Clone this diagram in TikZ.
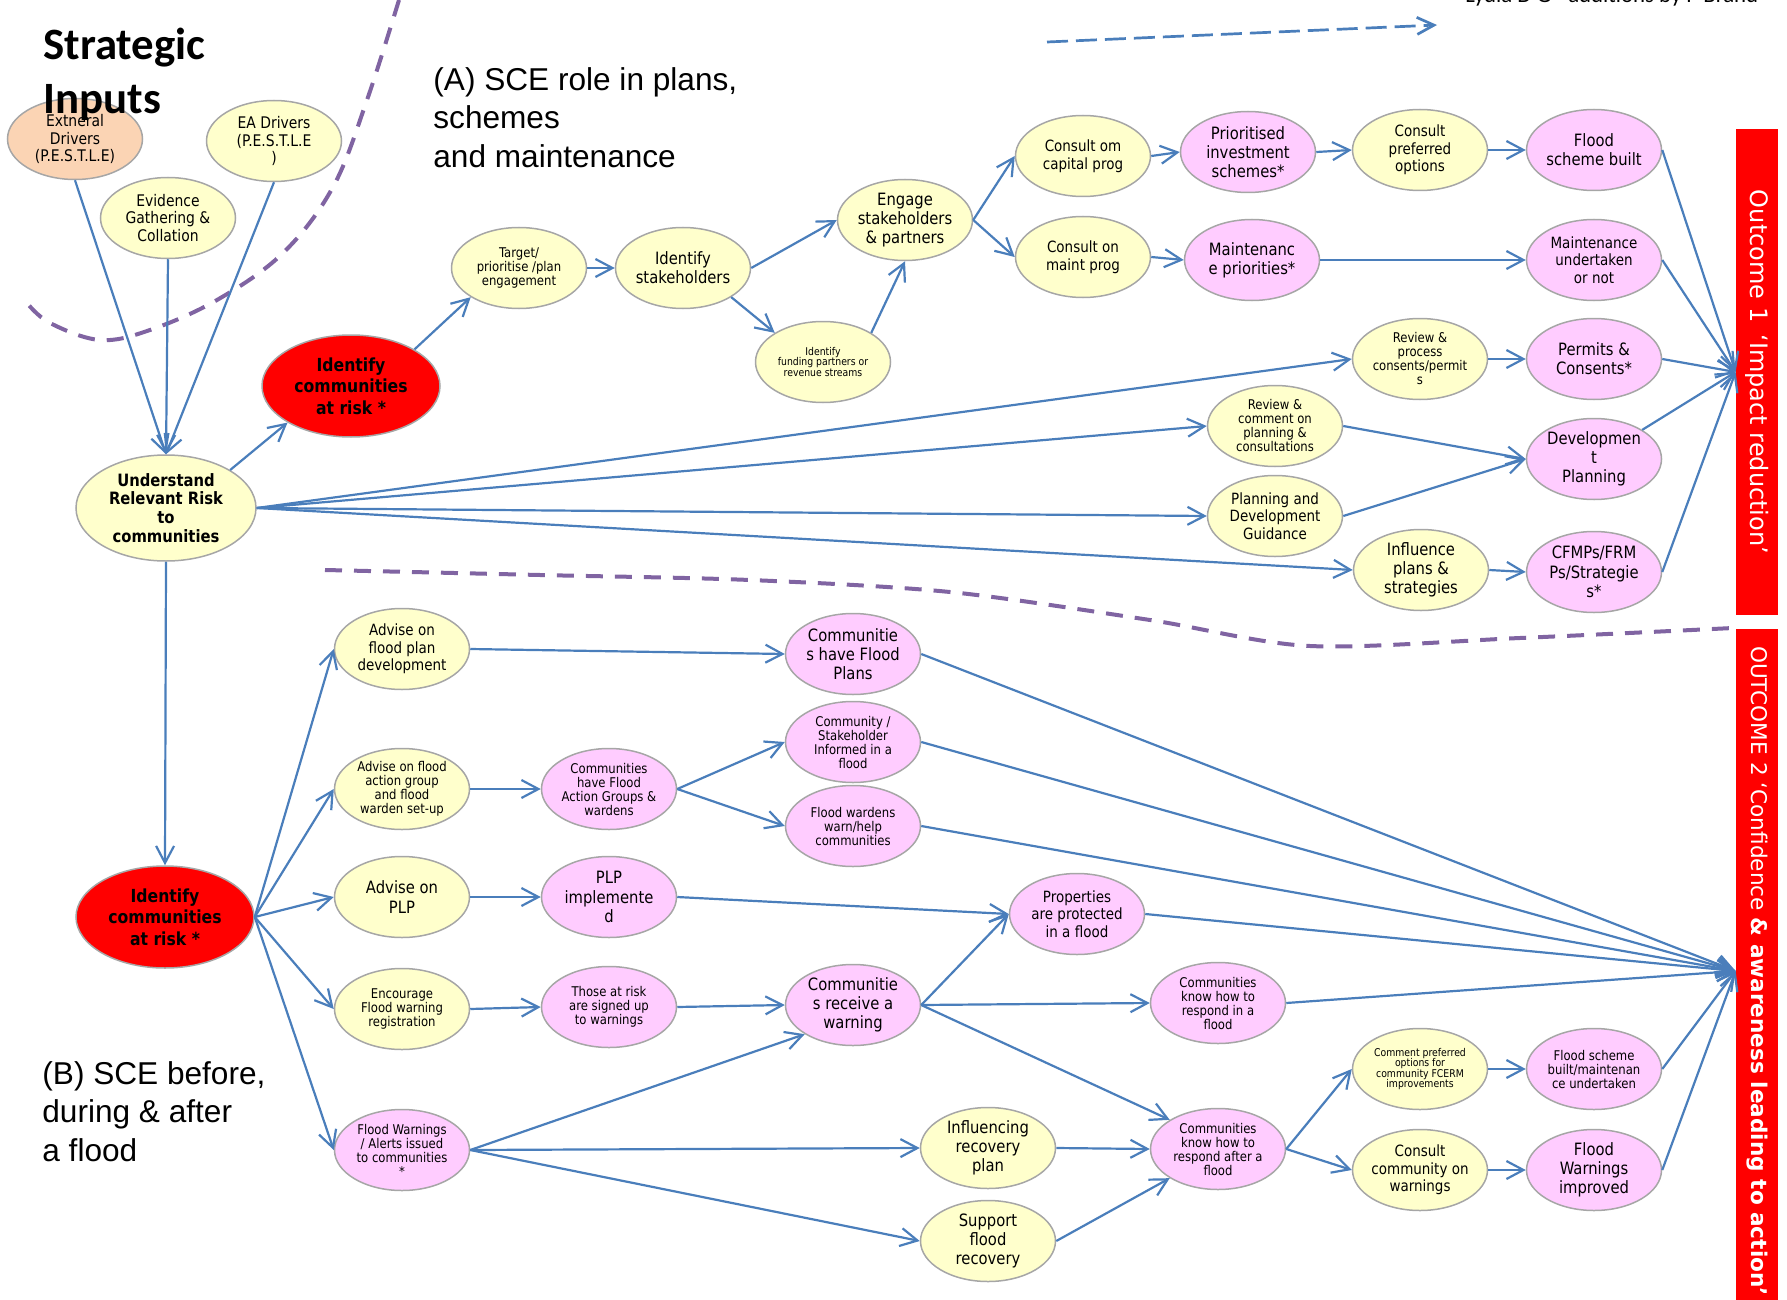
\documentclass[tikz,border=0pt]{standalone}
\usepackage{fontspec}
\usepackage{graphicx}
\usepackage{xcolor}
\newfontfamily\bubblefont[FakeStretch=0.87]{DejaVu Sans}
\newfontfamily\outcomefont{DejaVu Sans}
\newfontfamily\headingfont{Liberation Sans}
\newfontfamily\titlefont{Carlito}
\definecolor{bubbleyellow}{RGB}{255,255,204}
\definecolor{bubblepink}{RGB}{255,204,255}
\definecolor{bubblepeach}{RGB}{251,212,180}
\definecolor{riskred}{RGB}{255,0,0}
\definecolor{rimgrey}{RGB}{166,166,166}
\definecolor{flowblue}{RGB}{74,126,187}
\definecolor{splitpurple}{RGB}{128,100,162}
\usepackage{tikz}
\usetikzlibrary{arrows.meta,shapes,calc}
\tikzstyle{bubble}=[ellipse,draw=rimgrey,line width=0.75pt,minimum width=67.5pt,minimum height=40.5pt,inner sep=-12pt,align=center]
\tikzstyle{input bubble}=[bubble,fill=bubblepeach]
\tikzstyle{action bubble}=[bubble,fill=bubbleyellow]
\tikzstyle{result bubble}=[bubble,fill=bubblepink]
\tikzstyle{risk bubble}=[bubble,fill=riskred,minimum width=89pt,minimum height=51pt]
\tikzstyle{big txt}=[font=\bubblefont\fontsize{8.5}{9.6}\selectfont]
\tikzstyle{mid txt}=[font=\bubblefont\fontsize{7.75}{8.8}\selectfont]
\tikzstyle{small txt}=[font=\bubblefont\fontsize{6.7}{7}\selectfont]
\tikzstyle{tiny txt}=[font=\bubblefont\fontsize{5.35}{5.3}\selectfont]
\tikzstyle{input txt}=[font=\bubblefont\fontsize{8}{8.8}\selectfont]
\tikzstyle{bold txt}=[font=\bubblefont\bfseries\fontsize{8.5}{9.4}\selectfont]
\tikzstyle{risk txt}=[font=\bubblefont\bfseries\fontsize{9}{10.7}\selectfont]
\tikzstyle{outcome bar}=[rectangle,fill=riskred,minimum width=21pt,inner sep=0pt,text=white]
\tikzstyle{flowedge}=[-{Straight Barb[length=8.5pt,width=9pt]},line width=1.1pt,flowblue]
\tikzstyle{legendedge}=[-{Straight Barb[length=8.5pt,width=8.5pt]},line width=1.35pt,flowblue,dash pattern=on 10.5pt off 4pt]
\tikzstyle{divider}=[splitpurple,line width=2pt,dash pattern=on 8.5pt off 6pt]

\begin{document}
\begin{tikzpicture}[x=0.5pt,y=-0.5pt]
\useasboundingbox (0,0) rectangle (1787,1300);
\def\colA{402}
\def\colB{609}
\def\colC{853}
\def\colF{1420}
\def\colG{1594}

    % purple split lines
    \draw[divider] plot[smooth,tension=0.6] coordinates {(399,0) (367,100) (333,187) (283,253) (217,300) (150,330) (100,340) (50,323) (27,303)};
    \draw[divider] plot[smooth,tension=0.5] coordinates {(325,570) (540,575) (750,580) (950,592) (1150,620) (1310,646) (1520,638) (1733,628)};

    \coordinate (legend-start) at (1047,42);
    \coordinate (legend-end) at (1437,25);
    \draw[legendedge] (legend-start) -- (legend-end);
    \node[anchor=base west,inner sep=0pt,font=\titlefont\fontsize{11.4}{13}\selectfont] (credit) at (1465,3) {Lydia D G - additions by P Brand};

    % strategic inputs
    \node[input bubble, input txt] (ext) at (75,139) {Extneral\\Drivers\\(P.E.S.T.L.E)};
    \node[action bubble, input txt] (evid) at (168,218) {Evidence\\Gathering \&\\Collation};
    \node[action bubble, input txt] (ead) at (274,141) {EA Drivers\\(P.E.S.T.L.E\\)};
    \node[anchor=north west,align=left,inner sep=0pt,font=\titlefont\bfseries\fontsize{22.4}{27}\selectfont] (title) at (43,28) {Strategic\\Inputs};

    \node[action bubble, bold txt, minimum width=90pt, minimum height=53pt] (under) at (166,508) {Understand\\Relevant Risk\\to\\communities};
    \node[risk bubble, risk txt] (idA) at (351,386) {Identify\\communities\\at risk *};
    \node[risk bubble, risk txt] (idB) at (165,917) {Identify\\communities\\at risk *};

    \node[anchor=north west,align=left,inner sep=0pt,font=\headingfont\fontsize{15.8}{19.25}\selectfont] (partA) at (433,67) {(A) SCE role in plans,\\schemes\\and maintenance};
    \node[anchor=north west,align=left,inner sep=0pt,font=\headingfont\fontsize{15.8}{19.25}\selectfont] (partB) at (42,1061) {(B) SCE before,\\during \& after\\a flood};

    % (A) plans, schemes and maintenance
    \node[action bubble, small txt] (target) at (519,268) {Target/\\prioritise /plan\\engagement};
    \node[action bubble, big txt] (idstake) at (683,268) {Identify\\stakeholders};
    \node[action bubble, big txt] (engage) at (905,220) {Engage\\stakeholders\\\& partners};
    \node[action bubble, tiny txt] (funding) at (823,362) {Identify\\funding partners or\\revenue streams};
    \node[action bubble, mid txt] (capital) at (1083,156) {Consult om\\capital prog};
    \node[action bubble, mid txt] (maintprog) at (1083,257) {Consult on\\maint prog};
    \node[result bubble, big txt] (prioinv) at (1248,152) {Prioritised\\investment\\schemes*};
    \node[result bubble, big txt] (maintprio) at (1252,260) {Maintenanc\\e priorities*};
    \node[action bubble, mid txt] (prefopt) at (\colF,150) {Consult\\preferred\\options};
    \node[result bubble, big txt] (floodbuilt) at (\colG,150) {Flood\\scheme built};
    \node[result bubble, mid txt] (maintdone) at (\colG,260) {Maintenance\\undertaken\\or not};
    \node[action bubble, small txt] (reviewproc) at (\colF,359) {Review \&\\process\\consents/permit\\s};
    \node[result bubble, big txt] (permits) at (\colG,359) {Permits \&\\Consents*};
    \node[action bubble, small txt] (reviewcom) at (1275,426) {Review \&\\comment on\\planning \&\\consultations};
    \node[action bubble, mid txt] (planguide) at (1275,516) {Planning and\\Development\\Guidance};
    \node[result bubble, big txt] (develop) at (\colG,459) {Developmen\\t\\Planning};
    \node[action bubble, big txt] (influence) at (1421,570) {Influence\\plans \&\\strategies};
    \node[result bubble, big txt] (cfmp) at (\colG,572) {CFMPs/FRM\\Ps/Strategie\\s*};

    % (B) before, during and after a flood
    \node[action bubble, mid txt] (advplan) at (\colA,649) {Advise on\\flood plan\\development};
    \node[action bubble, small txt] (advfag) at (\colA,789) {Advise on flood\\action group\\and flood\\warden set-up};
    \node[action bubble, big txt] (advplp) at (\colA,897) {Advise on\\PLP};
    \node[action bubble, small txt] (encourage) at (\colA,1009) {Encourage\\Flood warning\\registration};
    \node[result bubble, small txt] (alerts) at (\colA,1150) {Flood Warnings\\/ Alerts issued\\to communities\\*};
    \node[result bubble, small txt] (commfag) at (\colB,789) {Communities\\have Flood\\Action Groups \&\\wardens};
    \node[result bubble, big txt] (plpimpl) at (\colB,897) {PLP\\implemente\\d};
    \node[result bubble, small txt] (signed) at (\colB,1007) {Those at risk\\are signed up\\to warnings};
    \node[result bubble, big txt] (commplans) at (\colC,654) {Communitie\\s have Flood\\Plans};
    \node[result bubble, small txt] (informed) at (\colC,742) {Community /\\Stakeholder\\Informed in a\\flood};
    \node[result bubble, small txt] (wardens) at (\colC,826) {Flood wardens\\warn/help\\communities};
    \node[result bubble, big txt] (receive) at (\colC,1005) {Communitie\\s receive a\\warning};
    \node[result bubble, mid txt] (props) at (1077,914) {Properties\\are protected\\in a flood};
    \node[result bubble, small txt] (respin) at (1218,1003) {Communities\\know how to\\respond in a\\flood};
    \node[result bubble, small txt] (respafter) at (1218,1149) {Communities\\know how to\\respond after a\\flood};
    \node[action bubble, big txt] (influencing) at (988,1148) {Influencing\\recovery\\plan};
    \node[action bubble, big txt] (support) at (988,1241) {Support\\flood\\recovery};
    \node[action bubble, tiny txt] (commentpref) at (\colF,1069) {Comment preferred\\options for\\community FCERM\\improvements};
    \node[result bubble, small txt] (fsbm) at (\colG,1069) {Flood scheme\\built/maintenan\\ce undertaken};
    \node[action bubble, mid txt] (consultcomm) at (\colF,1170) {Consult\\community on\\warnings};
    \node[result bubble, big txt] (fwimproved) at (\colG,1170) {Flood\\Warnings\\improved};

    % outcome bars
    \node[outcome bar, minimum height=243pt, font=\outcomefont\fontsize{12}{14}\selectfont] (out1) at (1757,372) {\rotatebox{-90}{Outcome 1\enspace‘Impact reduction’}};
    \node[outcome bar, minimum height=342pt, font=\outcomefont\fontsize{10.8}{13}\selectfont] (out2) at (1757,971) {\rotatebox{-90}{OUTCOME 2 ‘Confidence {\bfseries\& awareness leading to action’}}};

    \foreach \source in {ext,evid,ead}
        \draw[flowedge] (\source.south) -- (under.north);
    \draw[flowedge] (under.north east) -- (idA.south west);
    \draw[flowedge] (idA.north east) -- (target.south west);
    \draw[flowedge] (target.east) -- (idstake.west);
    \draw[flowedge] (idstake.east) -- (engage.west);
    \draw[flowedge] (idstake.south east) -- (funding.north west);
    \draw[flowedge] (funding.north east) -- (engage.south);
    \draw[flowedge] (engage.east) -- (capital.west);
    \draw[flowedge] (engage.east) -- (maintprog.west);
    \draw[flowedge] (capital.east) -- (prioinv.west);
    \draw[flowedge] (maintprog.east) -- (maintprio.west);
    \draw[flowedge] (prioinv.east) -- (prefopt.west);
    \draw[flowedge] (prefopt.east) -- (floodbuilt.west);
    \draw[flowedge] (maintprio.east) -- (maintdone.west);

    \foreach \dest in {reviewproc,reviewcom,planguide,influence}
        \draw[flowedge] (under.east) -- (\dest.west);
    \draw[flowedge] (reviewproc.east) -- (permits.west);
    \draw[flowedge] (reviewcom.east) -- (develop.west);
    \draw[flowedge] (planguide.east) -- (develop.west);
    \draw[flowedge] (influence.east) -- (cfmp.west);

    \foreach \source in {floodbuilt,maintdone,permits,cfmp}
        \draw[flowedge] (\source.east) -- (out1.west);
    \draw[flowedge] (develop.north east) -- (out1.west);

    \draw[flowedge] (under.south) -- (idB.north);
    \foreach \dest in {advplan,advfag,advplp,encourage,alerts}
        \draw[flowedge] (idB.east) -- (\dest.west);

    \draw[flowedge] (advplan.east) -- (commplans.west);
    \draw[flowedge] (advfag.east) -- (commfag.west);
    \draw[flowedge] (commfag.east) -- (informed.west);
    \draw[flowedge] (commfag.east) -- (wardens.west);
    \draw[flowedge] (advplp.east) -- (plpimpl.west);
    \draw[flowedge] (plpimpl.east) -- (props.west);
    \draw[flowedge] (encourage.east) -- (signed.west);
    \draw[flowedge] (signed.east) -- (receive.west);
    \draw[flowedge] (alerts.east) -- (receive.south west);
    \draw[flowedge] (alerts.east) -- (influencing.west);
    \draw[flowedge] (alerts.east) -- (support.west);
    \draw[flowedge] (receive.east) -- (props.west);
    \draw[flowedge] (receive.east) -- (respin.west);
    \draw[flowedge] (receive.east) -- (respafter.north west);
    \draw[flowedge] (influencing.east) -- (respafter.west);
    \draw[flowedge] (support.east) -- (respafter.south west);
    \draw[flowedge] (respafter.east) -- (commentpref.west);
    \draw[flowedge] (respafter.east) -- (consultcomm.west);
    \draw[flowedge] (commentpref.east) -- (fsbm.west);
    \draw[flowedge] (consultcomm.east) -- (fwimproved.west);

    \foreach \source in {commplans,informed,wardens,props,respin,fsbm,fwimproved}
        \draw[flowedge] (\source.east) -- (out2.west);

\end{tikzpicture}
\end{document}
